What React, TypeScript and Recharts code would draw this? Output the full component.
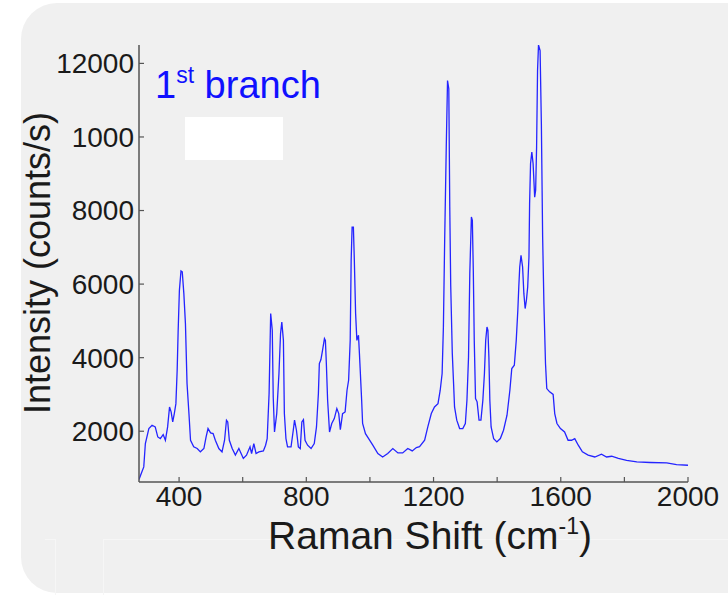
import React from 'react';
import { LineChart, Line, XAxis, YAxis } from 'recharts';

// Raman spectrum
const ramanShift = [
  274, 289, 294, 305, 315, 325, 333, 341, 350, 357, 364, 370, 375, 380, 385, 390, 394, 397, 401, 406,
  410, 415, 420, 425, 431, 436, 446, 457, 467, 478, 485, 491, 499, 507, 514, 525, 535, 543, 549, 553,
  558, 567, 577, 588, 595, 602, 612, 623, 628, 635, 642, 651, 665, 672, 677, 683, 688, 693, 696, 700,
  707, 714, 719, 723, 728, 731, 736, 741, 752, 759, 763, 769, 775, 781, 786, 791, 796, 804, 815, 825,
  832, 838, 841, 846, 851, 857, 860, 863, 867, 873, 880, 888, 896, 902, 907, 914, 922, 928, 933, 938,
  941, 944, 948, 951, 955, 959, 964, 967, 970, 974, 977, 986, 996, 1009, 1025, 1040, 1056, 1072, 1088, 1103,
  1119, 1133, 1146, 1156, 1172, 1182, 1193, 1203, 1214, 1221, 1227, 1231, 1235, 1240, 1244, 1248, 1251, 1254, 1259, 1263,
  1266, 1273, 1282, 1292, 1300, 1305, 1310, 1314, 1319, 1322, 1325, 1328, 1332, 1337, 1343, 1349, 1355, 1360, 1364, 1368,
  1371, 1374, 1377, 1381, 1389, 1399, 1410, 1420, 1431, 1440, 1446, 1454, 1460, 1465, 1468, 1471, 1475, 1480, 1484, 1488,
  1492, 1496, 1500, 1502, 1505, 1509, 1513, 1518, 1521, 1524, 1527, 1530, 1535, 1539, 1543, 1547, 1552, 1556, 1565, 1576,
  1581, 1588, 1599, 1612, 1623, 1634, 1644, 1655, 1668, 1686, 1707, 1728, 1744, 1760, 1781, 1807, 1839, 1881, 1933, 1964,
  2000,
];

const intensity = [
  690, 1030, 1665, 2073, 2163, 2117, 1845, 1800, 1910, 1755, 2117, 2660, 2525, 2253, 2480, 2750, 3660, 4700, 5830, 6355,
  6330, 5740, 4925, 3300, 2480, 1755, 1575, 1530, 1440, 1530, 1845, 2073, 1955, 1935, 1755, 1530, 1440, 1755, 2300, 2253,
  1755, 1530, 1350, 1530, 1395, 1260, 1350, 1575, 1395, 1665, 1395, 1440, 1465, 1620, 1800, 3025, 5200, 4745, 2930, 1980,
  2480, 3570, 4655, 4970, 4470, 2480, 1800, 1575, 1575, 2027, 2300, 2027, 1575, 1530, 2253, 2317, 1755, 1620, 1530, 1665,
  2117, 3025, 3840, 3950, 4200, 4520, 4470, 3840, 2840, 1980, 2210, 2345, 2615, 2480, 2045, 2480, 2525, 3115, 3385, 4470,
  6645, 7550, 7550, 6645, 5200, 4470, 4610, 4110, 3570, 2840, 2210, 1935, 1800, 1620, 1395, 1300, 1395, 1530, 1410, 1410,
  1530, 1465, 1555, 1580, 1755, 2117, 2480, 2660, 2750, 3115, 3570, 4835, 7190, 9725, 11535, 11310, 8100, 5965, 4110, 3300,
  2660, 2300, 2073, 2073, 2210, 2840, 4020, 6285, 7825, 7735, 6375, 4470, 2890, 2800, 2300, 2300, 2840, 3570, 4470, 4835,
  4745, 4020, 2840, 2117, 1800, 1710, 1800, 2027, 2435, 3115, 3705, 3795, 4470, 5290, 5920, 6465, 6780, 6465, 5740, 5335,
  5560, 5920, 6735, 8185, 9275, 9590, 9275, 8365, 8550, 9725, 11810, 12500, 12350, 10360, 7280, 5470, 3840, 3160, 3070, 3000,
  2480, 2210, 2073, 1980, 1755, 1755, 1800, 1620, 1440, 1350, 1300, 1375, 1300, 1320, 1260, 1210, 1165, 1150, 1140, 1095,
  1075,
];

const xTicks = [400, 600, 800, 1000, 1200, 1400, 1600, 1800, 2000];
const xTickLabels = ['400', '', '800', '', '1200', '', '1600', '', '2000'];
const yTicks = [2000, 4000, 6000, 8000, 10000, 12000];
const yTickLabels = ['2000', '4000', '6000', '8000', '1000', '12000'];

const data = ramanShift.map((x, i) => ({ x, y: intensity[i] }));

const FONT = '"Liberation Sans", Arial, sans-serif';
const frame = '#555555';
const tickStyle = { fontSize: 28, fill: '#1a1a1a', fontFamily: FONT };

const XTitle = () => (
  <text x={430} y={549} textAnchor="middle" fontSize={39} fill="#1a1a1a" fontFamily={FONT}>
    Raman Shift (cm
    <tspan dy={-15} fontSize={23}>-1</tspan>
    <tspan dy={15}>)</tspan>
  </text>
);

const YTitle = () => (
  <text
    transform="rotate(-90)"
    x={-263}
    y={50}
    textAnchor="middle"
    fontSize={36}
    fill="#1a1a1a"
    fontFamily={FONT}
  >
    Intensity (counts/s)
  </text>
);

export default function App() {
  return (
    <div style={{ position: 'absolute', left: 0, top: 0, width: 728, height: 595, background: '#fff', overflow: 'hidden' }}>
      <div
        style={{
          position: 'absolute',
          left: 21,
          top: 3,
          width: 760,
          height: 590,
          background: '#f0f0f0',
          borderRadius: 36,
        }}
      />
      <div style={{ position: 'absolute', left: 45, top: 539, width: 10, height: 1, background: '#f6f6f6' }} />
      <div style={{ position: 'absolute', left: 55, top: 539, width: 1, height: 60, background: '#f6f6f6' }} />
      <div style={{ position: 'absolute', left: 103, top: 539, width: 640, height: 1, background: '#f6f6f6' }} />
      <div style={{ position: 'absolute', left: 103, top: 539, width: 1, height: 60, background: '#f6f6f6' }} />

      <div style={{ position: 'absolute', left: 0, top: 0 }}>
        <LineChart width={728} height={595} data={data} margin={{ top: 45, right: 40, left: 0, bottom: 0 }}>
          <XAxis
            xAxisId="bottom"
            dataKey="x"
            type="number"
            domain={[274, 2000]}
            allowDataOverflow
            ticks={xTicks}
            tickFormatter={(v: number) => xTickLabels[xTicks.indexOf(v)] ?? ''}
            height={113}
            tickSize={-5}
            tickMargin={9}
            tick={tickStyle}
            stroke={frame}
            axisLine={{ stroke: frame, strokeWidth: 1.5 }}
            tickLine={{ stroke: frame, strokeWidth: 1.2 }}
            label={{ content: XTitle }}
          />
          <XAxis
            xAxisId="top"
            orientation="top"
            dataKey="x"
            type="number"
            domain={[274, 2000]}
            allowDataOverflow
            ticks={xTicks}
            tickFormatter={() => ''}
            height={0}
            tickSize={-5}
            axisLine={{ stroke: frame, strokeWidth: 1.5 }}
            tickLine={{ stroke: frame, strokeWidth: 1.2 }}
          />
          <YAxis
            yAxisId="left"
            type="number"
            domain={[620, 12500]}
            allowDataOverflow
            ticks={yTicks}
            tickFormatter={(v: number) => yTickLabels[yTicks.indexOf(v)] ?? ''}
            width={139}
            tickSize={-5}
            tickMargin={10}
            tick={tickStyle}
            axisLine={{ stroke: frame, strokeWidth: 1.5 }}
            tickLine={{ stroke: frame, strokeWidth: 1.2 }}
            label={{ content: YTitle }}
          />
          <YAxis
            yAxisId="right"
            orientation="right"
            type="number"
            domain={[620, 12500]}
            allowDataOverflow
            ticks={yTicks}
            tickFormatter={() => ''}
            width={0}
            tickSize={-5}
            axisLine={{ stroke: frame, strokeWidth: 1.5 }}
            tickLine={{ stroke: frame, strokeWidth: 1.2 }}
          />
          <Line
            xAxisId="bottom"
            yAxisId="left"
            dataKey="y"
            type="linear"
            stroke="#2424ff"
            strokeWidth={1.3}
            dot={false}
            isAnimationActive={false}
          />
        </LineChart>
      </div>

      <svg width={728} height={595} style={{ position: 'absolute', left: 0, top: 0, pointerEvents: 'none' }}>
        <text x={155} y={98} fontSize={38} fill="#1010ff" fontFamily={FONT}>
          1
          <tspan dy={-15} fontSize={23}>st</tspan>
          <tspan dy={15}> branch</tspan>
        </text>
        <rect x={185} y={117} width={98} height={43} fill="#ffffff" />
      </svg>
    </div>
  );
}
